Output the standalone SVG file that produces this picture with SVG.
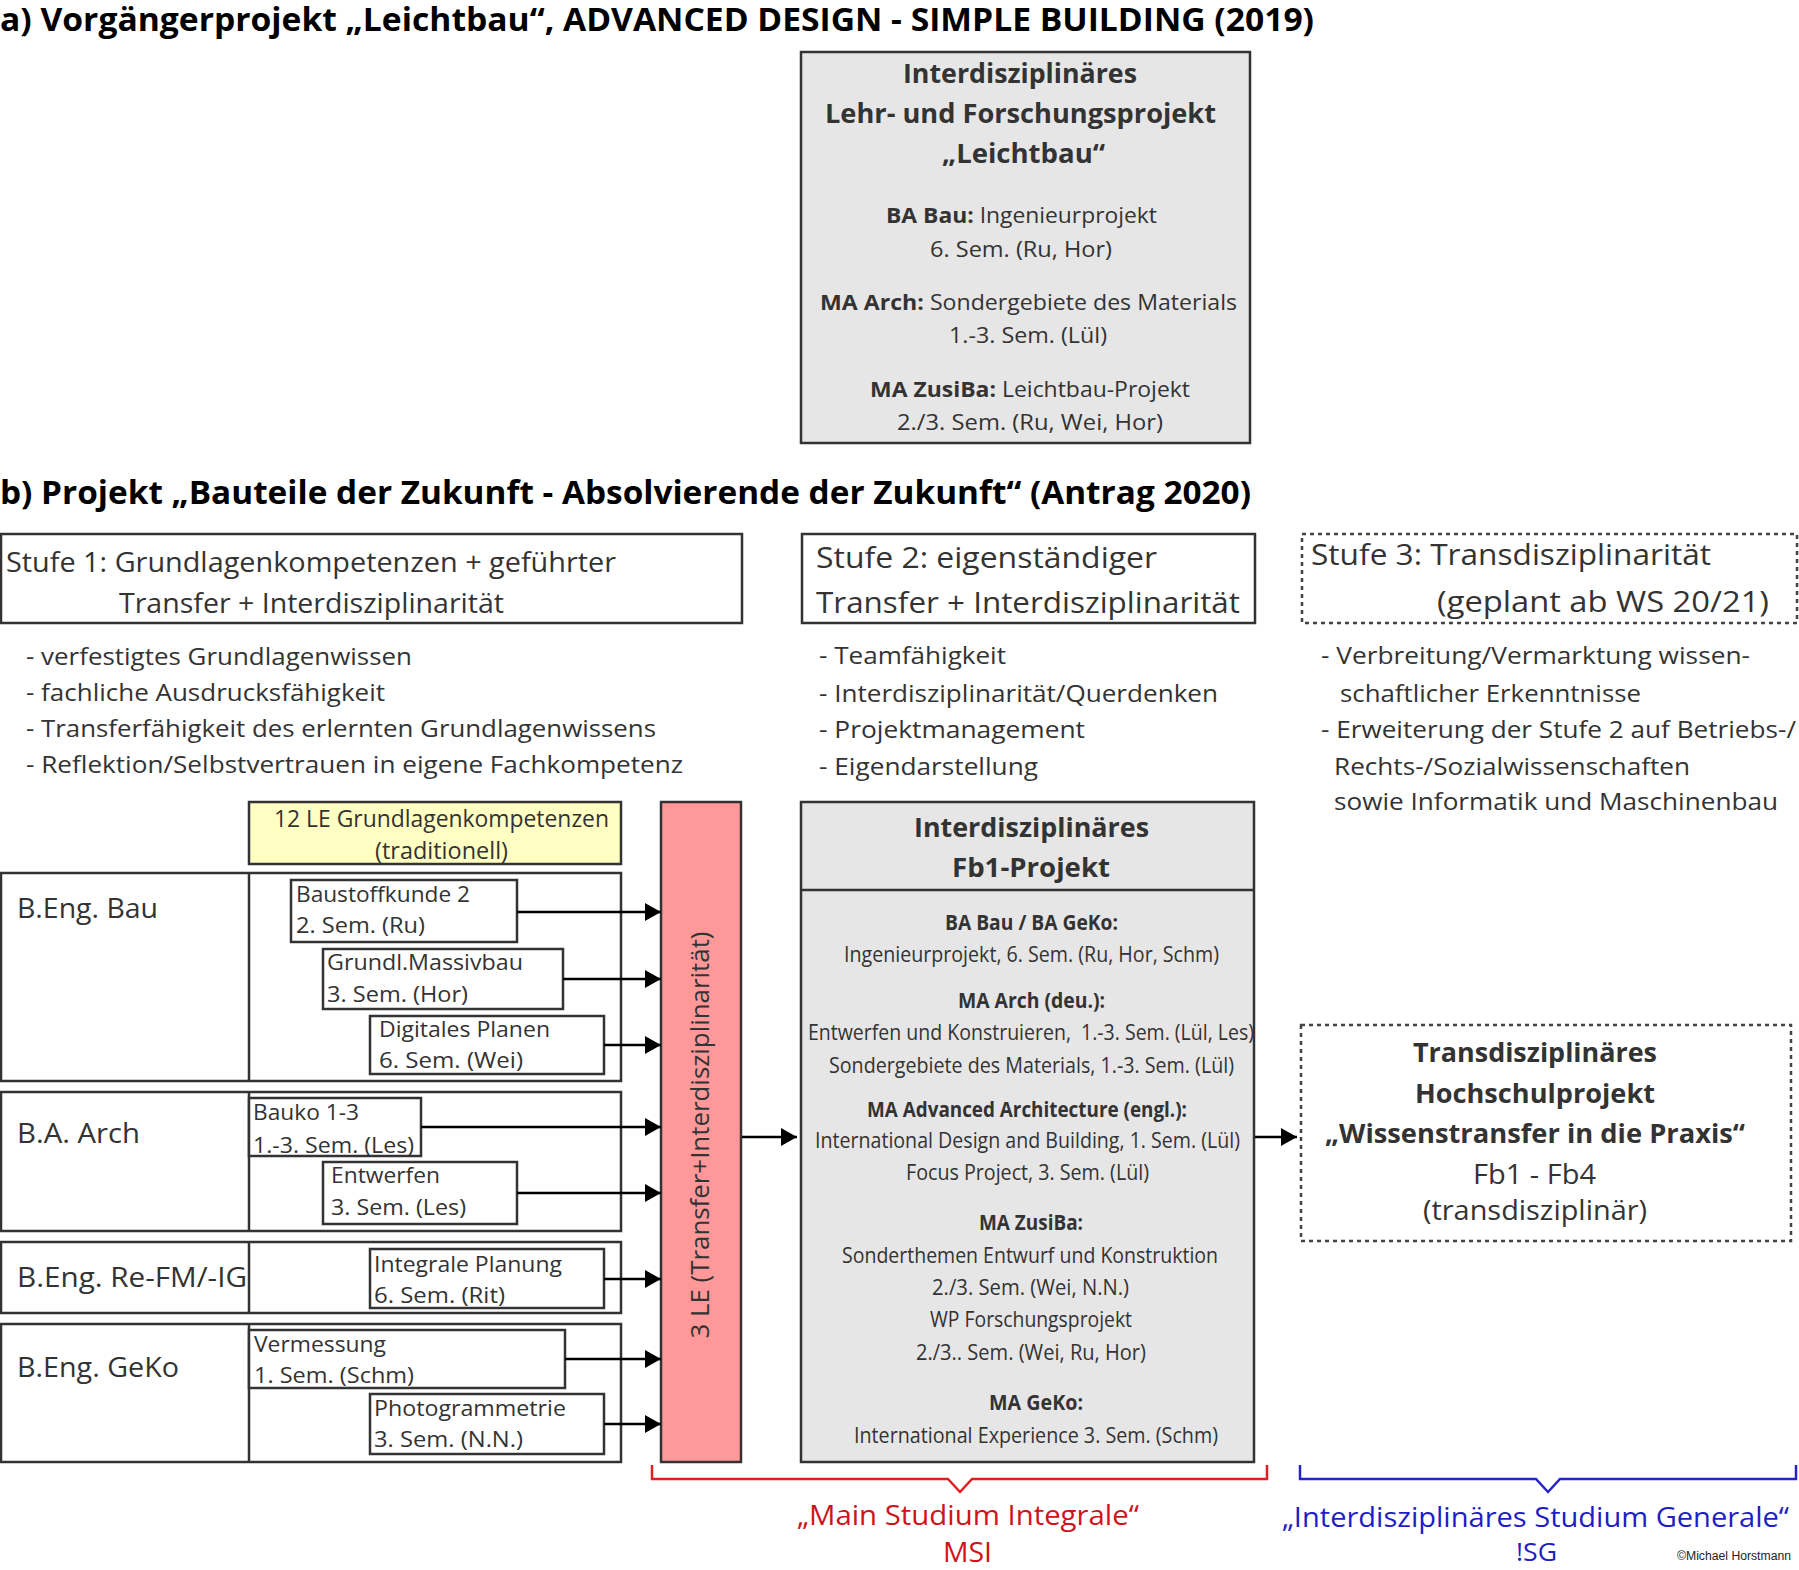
<svg xmlns="http://www.w3.org/2000/svg" width="1799" height="1570" viewBox="0 0 1799 1570">
<style>
text { font-family: "Open Sans", "Liberation Sans", sans-serif; fill: #333; }
.ttl { font-size: 32px; font-weight: 700; fill: #000; }
.b { font-weight: 700; }
.box { fill: #fff; stroke: #333; stroke-width: 2.5; }
.grey { fill: #e6e6e6; stroke: #333; stroke-width: 2.5; }
.dash { fill: #fff; stroke: #444; stroke-width: 2.5; stroke-dasharray: 4 4; }
.ln { stroke: #333; stroke-width: 2.5; fill: none; }
.arr { stroke: #000; stroke-width: 2.5; fill: none; marker-end: url(#ah); }
.s21 { font-size: 21px; }
.s22 { font-size: 22px; }
.s23 { font-size: 23px; }
.s26 { font-size: 26px; }
.s27 { font-size: 27px; }
.s28 { font-size: 28px; }
.s30 { font-size: 30px; }
.red { fill: #d0121b; }
.blue { fill: #1e1ec4; }
</style>
<defs>
<marker id="ah" markerUnits="userSpaceOnUse" markerWidth="16" markerHeight="18" refX="16" refY="9" orient="auto">
<path d="M0,0 L16,9 L0,18 Z" fill="#000"/>
</marker>
</defs>
<rect width="1799" height="1570" fill="#fff"/>

<g id="title-a">
<text class="ttl" x="0" y="31" textLength="1314" lengthAdjust="spacingAndGlyphs">a) Vorgängerprojekt „Leichtbau“, ADVANCED DESIGN - SIMPLE BUILDING (2019)</text>
</g>

<g id="leichtbau">
<rect class="grey" x="801" y="52" width="449" height="391"/>
<text class="b s26" x="903" y="83" textLength="234" lengthAdjust="spacingAndGlyphs">Interdisziplinäres</text>
<text class="b s26" x="825" y="123" textLength="391" lengthAdjust="spacingAndGlyphs">Lehr- und Forschungsprojekt</text>
<text class="b s26" x="942" y="163" textLength="163" lengthAdjust="spacingAndGlyphs">„Leichtbau“</text>
<text class="s21" x="886" y="223" textLength="271" lengthAdjust="spacingAndGlyphs"><tspan class="b">BA Bau:</tspan> Ingenieurprojekt</text>
<text class="s21" x="930" y="257" textLength="182" lengthAdjust="spacingAndGlyphs">6. Sem. (Ru, Hor)</text>
<text class="s21" x="820" y="310" textLength="417" lengthAdjust="spacingAndGlyphs"><tspan class="b">MA Arch:</tspan> Sondergebiete des Materials</text>
<text class="s21" x="949" y="343" textLength="158" lengthAdjust="spacingAndGlyphs">1.-3. Sem. (Lül)</text>
<text class="s21" x="870" y="397" textLength="320" lengthAdjust="spacingAndGlyphs"><tspan class="b">MA ZusiBa:</tspan> Leichtbau-Projekt</text>
<text class="s21" x="897" y="430" textLength="266" lengthAdjust="spacingAndGlyphs">2./3. Sem. (Ru, Wei, Hor)</text>
</g>

<g id="title-b">
<text class="ttl" x="0" y="504" textLength="1251" lengthAdjust="spacingAndGlyphs">b) Projekt „Bauteile der Zukunft - Absolvierende der Zukunft“ (Antrag 2020)</text>
</g>

<g id="stufe1">
<rect class="box" x="1" y="534" width="741" height="89"/>
<text class="s27" x="6" y="572" textLength="610" lengthAdjust="spacingAndGlyphs">Stufe 1: Grundlagenkompetenzen + geführter</text>
<text class="s27" x="119" y="613" textLength="385" lengthAdjust="spacingAndGlyphs">Transfer + Interdisziplinarität</text>
</g>
<g id="stufe2">
<rect class="box" x="802" y="534" width="453" height="89"/>
<text class="s30" x="816" y="568" textLength="341" lengthAdjust="spacingAndGlyphs">Stufe 2: eigenständiger</text>
<text class="s30" x="816" y="613" textLength="424" lengthAdjust="spacingAndGlyphs">Transfer + Interdisziplinarität</text>
</g>
<g id="stufe3">
<rect class="dash" x="1302" y="534" width="495" height="89"/>
<text class="s30" x="1311" y="565" textLength="400" lengthAdjust="spacingAndGlyphs">Stufe 3: Transdisziplinarität</text>
<text class="s30" x="1437" y="612" textLength="332" lengthAdjust="spacingAndGlyphs">(geplant ab WS 20/21)</text>
</g>

<g id="bullets1">
<text class="s23" x="26" y="665" textLength="386" lengthAdjust="spacingAndGlyphs">- verfestigtes Grundlagenwissen</text>
<text class="s23" x="26" y="701" textLength="359" lengthAdjust="spacingAndGlyphs">- fachliche Ausdrucksfähigkeit</text>
<text class="s23" x="26" y="737" textLength="630" lengthAdjust="spacingAndGlyphs">- Transferfähigkeit des erlernten Grundlagenwissens</text>
<text class="s23" x="26" y="773" textLength="657" lengthAdjust="spacingAndGlyphs">- Reflektion/Selbstvertrauen in eigene Fachkompetenz</text>
</g>
<g id="bullets2">
<text class="s23" x="819" y="664" textLength="187" lengthAdjust="spacingAndGlyphs">- Teamfähigkeit</text>
<text class="s23" x="819" y="702" textLength="399" lengthAdjust="spacingAndGlyphs">- Interdisziplinarität/Querdenken</text>
<text class="s23" x="819" y="738" textLength="266" lengthAdjust="spacingAndGlyphs">- Projektmanagement</text>
<text class="s23" x="819" y="775" textLength="219" lengthAdjust="spacingAndGlyphs">- Eigendarstellung</text>
</g>
<g id="bullets3">
<text class="s23" x="1321" y="664" textLength="429" lengthAdjust="spacingAndGlyphs">- Verbreitung/Vermarktung wissen-</text>
<text class="s23" x="1340" y="702" textLength="301" lengthAdjust="spacingAndGlyphs">schaftlicher Erkenntnisse</text>
<text class="s23" x="1321" y="738" textLength="475" lengthAdjust="spacingAndGlyphs">- Erweiterung der Stufe 2 auf Betriebs-/</text>
<text class="s23" x="1334" y="775" textLength="356" lengthAdjust="spacingAndGlyphs">Rechts-/Sozialwissenschaften</text>
<text class="s23" x="1334" y="810" textLength="444" lengthAdjust="spacingAndGlyphs">sowie Informatik und Maschinenbau</text>
</g>

<g id="grundlagen">
<rect x="249" y="802" width="372" height="62" fill="#ffffc4" stroke="#333" stroke-width="2.5"/>
<text class="s23" x="274" y="827" textLength="335" lengthAdjust="spacingAndGlyphs">12 LE Grundlagenkompetenzen</text>
<text class="s23" x="375" y="859" textLength="133" lengthAdjust="spacingAndGlyphs">(traditionell)</text>
</g>

<g id="row-bau">
<rect class="box" x="1" y="873" width="620" height="208"/>
<line class="ln" x1="249" y1="873" x2="249" y2="1081"/>
<text class="s28" x="17" y="918" textLength="141" lengthAdjust="spacingAndGlyphs">B.Eng. Bau</text>
</g>
<g id="row-arch">
<rect class="box" x="1" y="1092" width="620" height="139"/>
<line class="ln" x1="249" y1="1092" x2="249" y2="1231"/>
<text class="s28" x="17" y="1143" textLength="123" lengthAdjust="spacingAndGlyphs">B.A. Arch</text>
</g>
<g id="row-refm">
<rect class="box" x="1" y="1242" width="620" height="71"/>
<line class="ln" x1="249" y1="1242" x2="249" y2="1313"/>
<text class="s28" x="17" y="1287" textLength="230" lengthAdjust="spacingAndGlyphs">B.Eng. Re-FM/-IG</text>
</g>
<g id="row-geko">
<rect class="box" x="1" y="1324" width="620" height="138"/>
<line class="ln" x1="249" y1="1324" x2="249" y2="1462"/>
<text class="s28" x="17" y="1377" textLength="162" lengthAdjust="spacingAndGlyphs">B.Eng. GeKo</text>
</g>

<g id="baustoffkunde">
<rect class="box" x="291" y="880" width="226" height="62"/>
<text class="s22" x="296" y="902" textLength="174" lengthAdjust="spacingAndGlyphs">Baustoffkunde 2</text>
<text class="s22" x="296" y="933" textLength="129" lengthAdjust="spacingAndGlyphs">2. Sem. (Ru)</text>
</g>
<g id="massivbau">
<rect class="box" x="323" y="949" width="240" height="60"/>
<text class="s22" x="327" y="970" textLength="196" lengthAdjust="spacingAndGlyphs">Grundl.Massivbau</text>
<text class="s22" x="327" y="1002" textLength="141" lengthAdjust="spacingAndGlyphs">3. Sem. (Hor)</text>
</g>
<g id="digitales-planen">
<rect class="box" x="370" y="1016" width="234" height="58"/>
<text class="s22" x="379" y="1037" textLength="171" lengthAdjust="spacingAndGlyphs">Digitales Planen</text>
<text class="s22" x="379" y="1068" textLength="144" lengthAdjust="spacingAndGlyphs">6. Sem. (Wei)</text>
</g>
<g id="bauko">
<rect class="box" x="249" y="1098" width="172" height="58"/>
<text class="s22" x="253" y="1120" textLength="106" lengthAdjust="spacingAndGlyphs">Bauko 1-3</text>
<text class="s22" x="253" y="1153" textLength="161" lengthAdjust="spacingAndGlyphs">1.-3. Sem. (Les)</text>
</g>
<g id="entwerfen">
<rect class="box" x="323" y="1162" width="194" height="62"/>
<text class="s22" x="331" y="1183" textLength="109" lengthAdjust="spacingAndGlyphs">Entwerfen</text>
<text class="s22" x="331" y="1215" textLength="135" lengthAdjust="spacingAndGlyphs">3. Sem. (Les)</text>
</g>
<g id="integrale-planung">
<rect class="box" x="370" y="1249" width="234" height="59"/>
<text class="s22" x="374" y="1272" textLength="188" lengthAdjust="spacingAndGlyphs">Integrale Planung</text>
<text class="s22" x="374" y="1303" textLength="131" lengthAdjust="spacingAndGlyphs">6. Sem. (Rit)</text>
</g>
<g id="vermessung">
<rect class="box" x="249" y="1330" width="316" height="58"/>
<text class="s22" x="254" y="1352" textLength="132" lengthAdjust="spacingAndGlyphs">Vermessung</text>
<text class="s22" x="254" y="1383" textLength="160" lengthAdjust="spacingAndGlyphs">1. Sem. (Schm)</text>
</g>
<g id="photogrammetrie">
<rect class="box" x="370" y="1394" width="234" height="60"/>
<text class="s22" x="374" y="1416" textLength="192" lengthAdjust="spacingAndGlyphs">Photogrammetrie</text>
<text class="s22" x="374" y="1447" textLength="149" lengthAdjust="spacingAndGlyphs">3. Sem. (N.N.)</text>
</g>

<g id="transfer-le">
<rect x="661" y="802" width="80" height="660" fill="#ff9999" stroke="#333" stroke-width="2.5"/>
<text class="s26" transform="translate(709,1135) rotate(-90)" x="0" y="0" text-anchor="middle" textLength="407" lengthAdjust="spacingAndGlyphs">3 LE (Transfer+Interdisziplinarität)</text>
</g>

<g id="fb1-projekt">
<rect class="grey" x="801" y="802" width="453" height="660"/>
<line class="ln" x1="801" y1="890" x2="1254" y2="890"/>
<text class="b s27" x="914" y="837" textLength="235" lengthAdjust="spacingAndGlyphs">Interdisziplinäres</text>
<text class="b s27" x="952" y="877" textLength="158" lengthAdjust="spacingAndGlyphs">Fb1-Projekt</text>
<text class="b s21" x="945" y="930" textLength="173" lengthAdjust="spacingAndGlyphs">BA Bau / BA GeKo:</text>
<text class="s21" x="844" y="962" textLength="375" lengthAdjust="spacingAndGlyphs">Ingenieurprojekt, 6. Sem. (Ru, Hor, Schm)</text>
<text class="b s21" x="958" y="1008" textLength="147" lengthAdjust="spacingAndGlyphs">MA Arch (deu.):</text>
<text class="s21" x="808" y="1040" textLength="446" lengthAdjust="spacingAndGlyphs">Entwerfen und Konstruieren,&#160; 1.-3. Sem. (Lül, Les)</text>
<text class="s21" x="829" y="1073" textLength="405" lengthAdjust="spacingAndGlyphs">Sondergebiete des Materials, 1.-3. Sem. (Lül)</text>
<text class="b s21" x="867" y="1117" textLength="320" lengthAdjust="spacingAndGlyphs">MA Advanced Architecture (engl.):</text>
<text class="s21" x="815" y="1148" textLength="425" lengthAdjust="spacingAndGlyphs">International Design and Building, 1. Sem. (Lül)</text>
<text class="s21" x="906" y="1180" textLength="243" lengthAdjust="spacingAndGlyphs">Focus Project, 3. Sem. (Lül)</text>
<text class="b s21" x="979" y="1230" textLength="104" lengthAdjust="spacingAndGlyphs">MA ZusiBa:</text>
<text class="s21" x="842" y="1263" textLength="376" lengthAdjust="spacingAndGlyphs">Sonderthemen Entwurf und Konstruktion</text>
<text class="s21" x="932" y="1295" textLength="197" lengthAdjust="spacingAndGlyphs">2./3. Sem. (Wei, N.N.)</text>
<text class="s21" x="930" y="1327" textLength="202" lengthAdjust="spacingAndGlyphs">WP Forschungsprojekt</text>
<text class="s21" x="916" y="1360" textLength="230" lengthAdjust="spacingAndGlyphs">2./3.. Sem. (Wei, Ru, Hor)</text>
<text class="b s21" x="989" y="1410" textLength="94" lengthAdjust="spacingAndGlyphs">MA GeKo:</text>
<text class="s21" x="854" y="1443" textLength="364" lengthAdjust="spacingAndGlyphs">International Experience 3. Sem. (Schm)</text>
</g>

<g id="transdisziplinaer">
<rect class="dash" x="1301" y="1025" width="490" height="216"/>
<text class="b s27" x="1413" y="1062" textLength="244" lengthAdjust="spacingAndGlyphs">Transdisziplinäres</text>
<text class="b s27" x="1415" y="1103" textLength="240" lengthAdjust="spacingAndGlyphs">Hochschulprojekt</text>
<text class="b s27" x="1325" y="1143" textLength="420" lengthAdjust="spacingAndGlyphs">„Wissenstransfer in die Praxis“</text>
<text class="s27" x="1473" y="1184" textLength="123" lengthAdjust="spacingAndGlyphs">Fb1 - Fb4</text>
<text class="s27" x="1423" y="1220" textLength="224" lengthAdjust="spacingAndGlyphs">(transdisziplinär)</text>
</g>

<g id="connectors">
<line class="arr" x1="517" y1="912" x2="661" y2="912"/>
<line class="arr" x1="563" y1="979" x2="661" y2="979"/>
<line class="arr" x1="604" y1="1045" x2="661" y2="1045"/>
<line class="arr" x1="421" y1="1127" x2="661" y2="1127"/>
<line class="arr" x1="517" y1="1193" x2="661" y2="1193"/>
<line class="arr" x1="604" y1="1279" x2="661" y2="1279"/>
<line class="arr" x1="565" y1="1359" x2="661" y2="1359"/>
<line class="arr" x1="604" y1="1424" x2="661" y2="1424"/>
<line class="arr" x1="742" y1="1137" x2="797" y2="1137"/>
<line class="arr" x1="1255" y1="1137" x2="1297" y2="1137"/>
</g>

<g id="msi">
<path d="M652,1465 V1479 H948 L960,1492 L972,1479 H1267 V1465" fill="none" stroke="#e02020" stroke-width="2.5"/>
<text class="s28 red" x="797" y="1525" textLength="342" lengthAdjust="spacingAndGlyphs">„Main Studium Integrale“</text>
<text class="s28 red" x="943" y="1562" textLength="49" lengthAdjust="spacingAndGlyphs">MSI</text>
</g>

<g id="isg">
<path d="M1300,1465 V1479 H1536 L1548,1492 L1560,1479 H1796 V1465" fill="none" stroke="#2424c8" stroke-width="2.5"/>
<text class="s28 blue" x="1282" y="1527" textLength="507" lengthAdjust="spacingAndGlyphs">„Interdisziplinäres Studium Generale“</text>
<text class="s26 blue" x="1516" y="1561" textLength="41" lengthAdjust="spacingAndGlyphs">!SG</text>
</g>

<g id="copyright">
<text x="1677" y="1560" font-size="12" style="font-family:'Liberation Sans',sans-serif;fill:#222" textLength="114" lengthAdjust="spacingAndGlyphs">©Michael Horstmann</text>
</g>
</svg>
